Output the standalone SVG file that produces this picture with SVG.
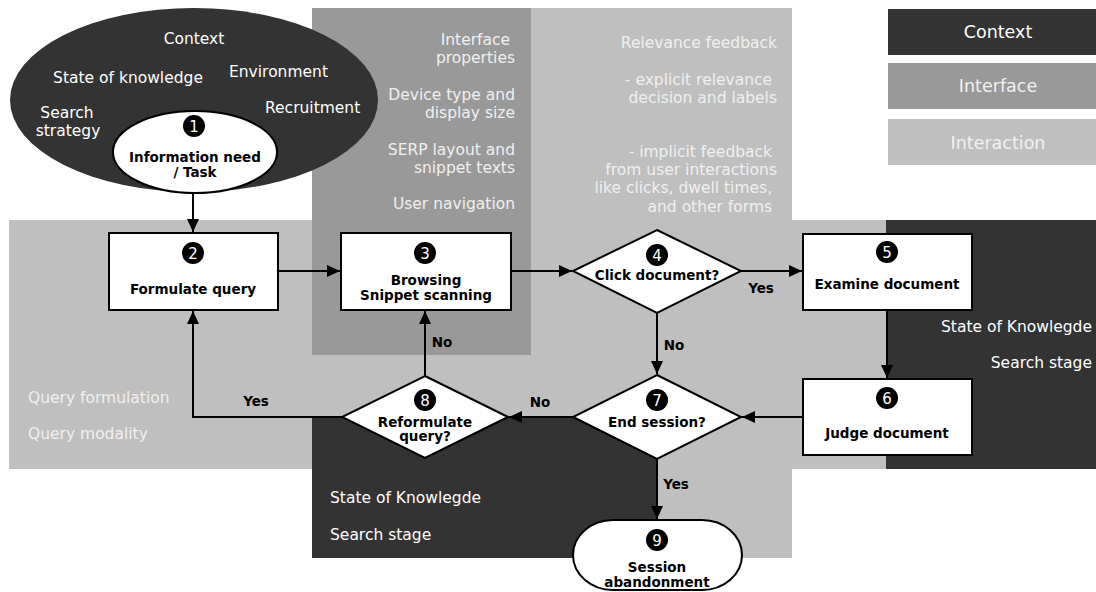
<svg xmlns="http://www.w3.org/2000/svg" width="1096" height="592" viewBox="0 0 1096 592">
<style>
text{font-family:"DejaVu Sans","Liberation Sans",sans-serif}
.lbl{font-size:15.5px;fill:#ffffff}
.lt{font-size:15.5px;fill:#f0f0f0}
.leg{font-size:17.5px;text-anchor:middle}
.b{font-size:13.5px;font-weight:bold;fill:#000;text-anchor:middle}
.num{font-size:15px;fill:#fff;text-anchor:middle}
.box{fill:#fff;stroke:#000;stroke-width:2}
.edge{fill:none;stroke:#000;stroke-width:2}
.r{text-anchor:end}
.m{text-anchor:middle}
</style>
<defs>
<marker id="ah" viewBox="0 0 13 12" refX="13" refY="6" markerWidth="13" markerHeight="12" markerUnits="userSpaceOnUse" orient="auto">
<path d="M0,0 L13,6 L0,12 Z" fill="#000"/>
</marker>
</defs>

<g id="background">
<rect x="531" y="8" width="261" height="550" fill="#bfbfbf"/>
<rect x="9" y="220" width="877" height="249" fill="#bfbfbf"/>
<rect x="886" y="220" width="210" height="249" fill="#333333"/>
<rect x="312" y="417" width="345" height="141" fill="#333333"/>
<rect x="312" y="8" width="219" height="347" fill="#999999"/>
<ellipse cx="194" cy="100" rx="184" ry="92" fill="#333333"/>
</g>

<g id="legend">
<rect x="888" y="9" width="208" height="46" fill="#333333"/>
<text class="leg" x="998" y="38" fill="#ffffff">Context</text>
<rect x="888" y="63" width="208" height="46" fill="#999999"/>
<text class="leg" x="998" y="92" fill="#f2f2f2">Interface</text>
<rect x="888" y="119" width="208" height="46" fill="#bfbfbf"/>
<text class="leg" x="998" y="149" fill="#f2f2f2">Interaction</text>
</g>

<g id="context-texts">
<text class="lbl m" x="194" y="44">Context</text>
<text class="lbl m" x="128" y="83">State of knowledge</text>
<text class="lbl" x="229" y="77">Environment</text>
<text class="lbl" x="265" y="113">Recruitment</text>
<text class="lbl m" x="67" y="118">Search</text>
<text class="lbl m" x="68" y="136">strategy</text>
<text class="lbl r" x="1092" y="332">State of Knowlegde</text>
<text class="lbl r" x="1092" y="368">Search stage</text>
<text class="lbl" x="330" y="503">State of Knowlegde</text>
<text class="lbl" x="330" y="540">Search stage</text>
</g>

<g id="interface-texts">
<text class="lt r" x="515" y="45" xml:space="preserve">Interface </text>
<text class="lt r" x="515" y="63">properties</text>
<text class="lt r" x="515" y="100">Device type and</text>
<text class="lt r" x="515" y="118">display size</text>
<text class="lt r" x="515" y="155">SERP layout and</text>
<text class="lt r" x="515" y="173">snippet texts</text>
<text class="lt r" x="515" y="209">User navigation</text>
</g>

<g id="interaction-texts">
<text class="lt r" x="777" y="48">Relevance feedback</text>
<text class="lt r" x="777" y="85" xml:space="preserve">- explicit relevance </text>
<text class="lt r" x="777" y="103">decision and labels</text>
<text class="lt r" x="777" y="157" xml:space="preserve">- implicit feedback </text>
<text class="lt r" x="777" y="175">from user interactions</text>
<text class="lt r" x="777" y="193" xml:space="preserve">like clicks, dwell times, </text>
<text class="lt r" x="777" y="212" xml:space="preserve">and other forms </text>
<text class="lt" x="28" y="403">Query formulation</text>
<text class="lt" x="28" y="439">Query modality</text>
</g>

<g id="connectors">
<path class="edge" d="M193,193 V232" marker-end="url(#ah)"/>
<path class="edge" d="M278,271 H340" marker-end="url(#ah)"/>
<path class="edge" d="M511,271 H572" marker-end="url(#ah)"/>
<path class="edge" d="M741,271 H802" marker-end="url(#ah)"/>
<text class="b" x="761" y="293">Yes</text>
<path class="edge" d="M887,310 V378" marker-end="url(#ah)"/>
<path class="edge" d="M803,417 H742" marker-end="url(#ah)"/>
<path class="edge" d="M657,313 V374" marker-end="url(#ah)"/>
<text class="b" x="674" y="350">No</text>
<path class="edge" d="M573,417 H509" marker-end="url(#ah)"/>
<text class="b" x="540" y="407">No</text>
<path class="edge" d="M425,376 V311" marker-end="url(#ah)"/>
<text class="b" x="442" y="347">No</text>
<path class="edge" d="M342,417 H193 V311" marker-end="url(#ah)"/>
<text class="b" x="256" y="406">Yes</text>
<path class="edge" d="M657,459 V519" marker-end="url(#ah)"/>
<text class="b" x="676" y="489">Yes</text>
</g>

<g id="node1">
<ellipse class="box" cx="195" cy="152" rx="82" ry="41"/>
<circle cx="194" cy="126" r="11"/>
<text class="num" x="194" y="131.5">1</text>
<text class="b" x="195" y="162">Information need</text>
<text class="b" x="195" y="177">/ Task</text>
</g>

<g id="node2">
<rect class="box" x="109" y="233" width="169" height="77"/>
<circle cx="193" cy="253" r="11"/>
<text class="num" x="193" y="258.5">2</text>
<text class="b" x="193" y="294">Formulate query</text>
</g>

<g id="node3">
<rect class="box" x="341" y="233" width="170" height="77"/>
<circle cx="425" cy="253" r="11"/>
<text class="num" x="425" y="258.5">3</text>
<text class="b" x="426" y="285">Browsing</text>
<text class="b" x="426" y="300">Snippet scanning</text>
</g>

<g id="node4">
<polygon class="box" points="657,230 741,271 657,313 573,271"/>
<circle cx="657" cy="255" r="11"/>
<text class="num" x="657" y="260.5">4</text>
<text class="b" x="657" y="280">Click document?</text>
</g>

<g id="node5">
<rect class="box" x="803" y="234" width="169" height="76"/>
<circle cx="887" cy="252" r="11"/>
<text class="num" x="887" y="257.5">5</text>
<text class="b" x="887" y="289">Examine document</text>
</g>

<g id="node6">
<rect class="box" x="803" y="379" width="169" height="76"/>
<circle cx="887" cy="398" r="11"/>
<text class="num" x="887" y="403.5">6</text>
<text class="b" x="887" y="438">Judge document</text>
</g>

<g id="node7">
<polygon class="box" points="657,375 741,417 657,459 573,417"/>
<circle cx="657" cy="400" r="11"/>
<text class="num" x="657" y="405.5">7</text>
<text class="b" x="657" y="427">End session?</text>
</g>

<g id="node8">
<polygon class="box" points="425,376 508,417 425,458 342,417"/>
<circle cx="425" cy="400" r="11"/>
<text class="num" x="425" y="405.5">8</text>
<text class="b" x="425" y="427">Reformulate</text>
<text class="b" x="425" y="441">query?</text>
</g>

<g id="node9">
<rect class="box" x="573" y="520" width="169" height="70" rx="40" ry="35"/>
<circle cx="657" cy="540" r="11"/>
<text class="num" x="657" y="545.5">9</text>
<text class="b" x="657" y="572">Session</text>
<text class="b" x="657" y="587">abandonment</text>
</g>
</svg>
